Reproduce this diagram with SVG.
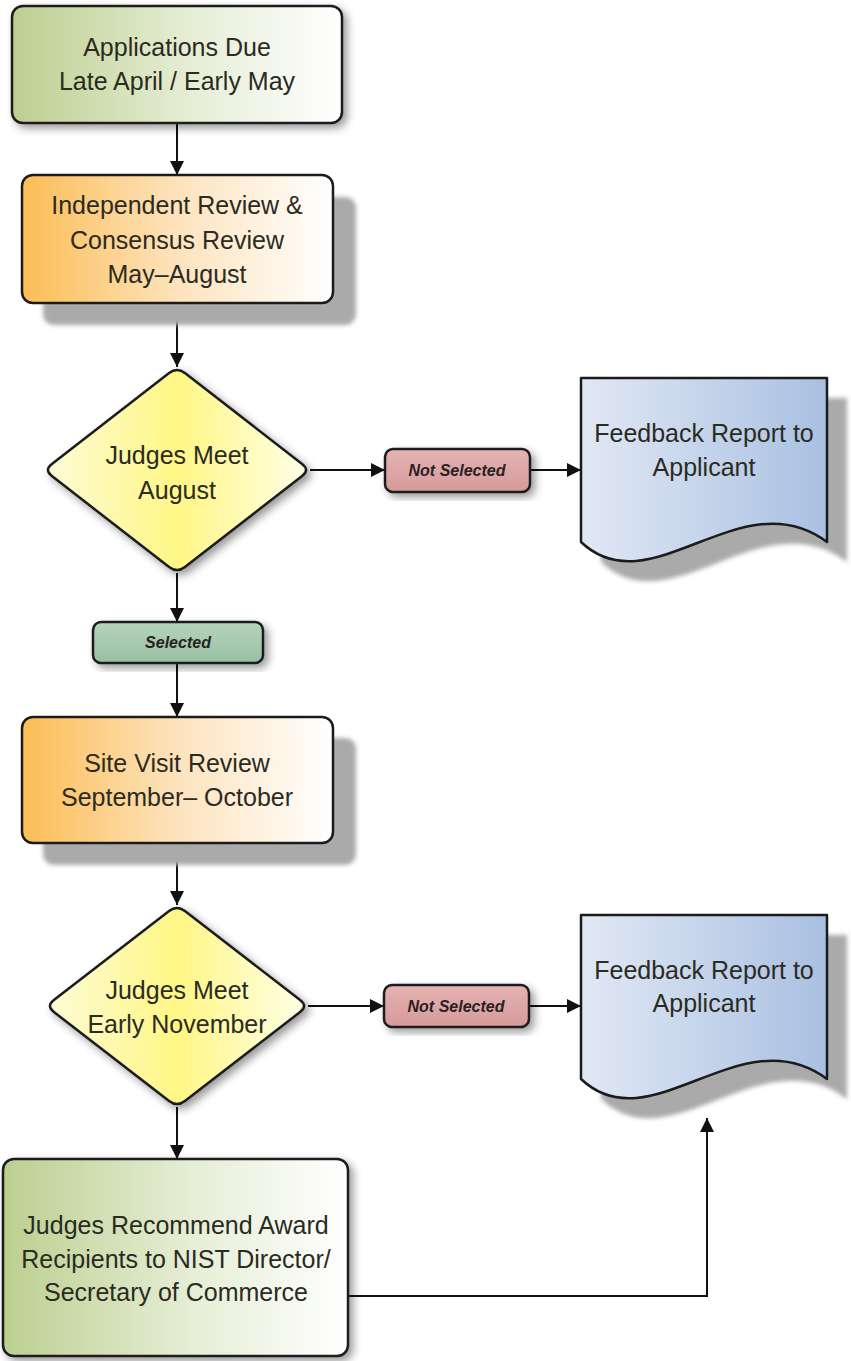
<svg xmlns="http://www.w3.org/2000/svg" width="851" height="1361" viewBox="0 0 851 1361">
<defs>
  <linearGradient id="gGreen" x1="0" y1="0" x2="1" y2="0">
    <stop offset="0" stop-color="#bccf90"/>
    <stop offset="0.55" stop-color="#e6eed6"/>
    <stop offset="1" stop-color="#ffffff"/>
  </linearGradient>
  <linearGradient id="gOrange" x1="0" y1="0" x2="1" y2="0">
    <stop offset="0" stop-color="#fbbd55"/>
    <stop offset="0.5" stop-color="#fde3bd"/>
    <stop offset="1" stop-color="#ffffff"/>
  </linearGradient>
  <linearGradient id="gYellow" x1="0" y1="0" x2="1" y2="0">
    <stop offset="0" stop-color="#fdfcd6"/>
    <stop offset="0.5" stop-color="#fff685"/>
    <stop offset="1" stop-color="#ffffe6"/>
  </linearGradient>
  <linearGradient id="gBlue" x1="0" y1="0" x2="1" y2="0">
    <stop offset="0" stop-color="#e1e8f4"/>
    <stop offset="1" stop-color="#a9c0e2"/>
  </linearGradient>
  <linearGradient id="gPink" x1="0" y1="0" x2="0" y2="1">
    <stop offset="0" stop-color="#e6b3b3"/>
    <stop offset="1" stop-color="#d59a9a"/>
  </linearGradient>
  <linearGradient id="gSel" x1="0" y1="0" x2="0" y2="1">
    <stop offset="0" stop-color="#b4d4bc"/>
    <stop offset="1" stop-color="#98c0a3"/>
  </linearGradient>
  <filter id="soft" x="-10%" y="-10%" width="130%" height="130%">
    <feDropShadow dx="4" dy="4" stdDeviation="4" flood-color="#000" flood-opacity="0.4"/>
  </filter>
  <filter id="blur" x="-10%" y="-10%" width="120%" height="120%">
    <feGaussianBlur stdDeviation="2"/>
  </filter>
  <marker id="arr" markerWidth="14" markerHeight="14" viewBox="0 0 14 14" refX="14" refY="7" orient="auto" markerUnits="userSpaceOnUse">
    <path d="M0,0 L14,7 L0,14 Z" fill="#111"/>
  </marker>
  <style>
    .shape { stroke: #1b1b1b; stroke-width: 2.5; stroke-linejoin: round; }
    .shadow { fill: #aaaaaa; }
    .t { font-family: "Liberation Sans", Arial, sans-serif; font-size: 25px; fill: #2b2b22; text-anchor: middle; }
    .s { font-family: "Liberation Sans", Arial, sans-serif; font-size: 16px; font-weight: bold; font-style: italic; fill: #2a2222; text-anchor: middle; }
    .c { fill: none; stroke: #111; stroke-width: 2; }
  </style>
</defs>

<g id="connectors">
  <line class="c" x1="177" y1="123" x2="177" y2="175" marker-end="url(#arr)"/>
  <line class="c" x1="177" y1="303" x2="177" y2="367" marker-end="url(#arr)"/>
  <line class="c" x1="310" y1="470" x2="385" y2="470" marker-end="url(#arr)"/>
  <line class="c" x1="530" y1="470" x2="581" y2="470" marker-end="url(#arr)"/>
  <line class="c" x1="177" y1="573" x2="177" y2="622" marker-end="url(#arr)"/>
  <line class="c" x1="177" y1="663" x2="177" y2="717" marker-end="url(#arr)"/>
  <line class="c" x1="177" y1="843" x2="177" y2="905" marker-end="url(#arr)"/>
  <line class="c" x1="308" y1="1006" x2="384" y2="1006" marker-end="url(#arr)"/>
  <line class="c" x1="529" y1="1006" x2="581" y2="1006" marker-end="url(#arr)"/>
  <line class="c" x1="177" y1="1107" x2="177" y2="1159" marker-end="url(#arr)"/>
  <polyline class="c" points="348,1296 707,1296 707,1118" marker-end="url(#arr)"/>
</g>

<g id="applications-due">
  <rect class="shape" x="12" y="6" width="330" height="117" rx="11" fill="url(#gGreen)" filter="url(#soft)"/>
  <text class="t" x="177" y="56">Applications Due</text>
  <text class="t" x="177" y="90">Late April / Early May</text>
</g>

<g id="independent-review">
  <rect class="shadow" x="43" y="197" width="313" height="128" rx="11" filter="url(#blur)"/>
  <rect class="shape" x="22" y="175" width="311" height="128" rx="11" fill="url(#gOrange)"/>
  <text class="t" x="177" y="214">Independent Review &amp;</text>
  <text class="t" x="177" y="249">Consensus Review</text>
  <text class="t" x="177" y="283">May–August</text>
</g>

<g id="judges-meet-august">
  <path class="shape" fill="url(#gYellow)" filter="url(#soft)" d="M184.9,373.1 L302.1,463.9 Q310,470 302.1,476.1 L184.9,566.9 Q177,573 169.1,566.9 L51.9,476.1 Q44,470 51.9,463.9 L169.1,373.1 Q177,367 184.9,373.1 Z"/>
  <text class="t" x="177" y="464">Judges Meet</text>
  <text class="t" x="177" y="499">August</text>
</g>

<g id="not-selected-1">
  <rect class="shape" x="385" y="449" width="145" height="43" rx="8" fill="url(#gPink)" filter="url(#soft)"/>
  <text class="s" x="457" y="476">Not Selected</text>
</g>

<g id="feedback-1">
  <path class="shadow" filter="url(#blur)" transform="translate(20,20)" d="M581,378 H827 V542 C741,478 651,608 581,542 Z"/>
  <path class="shape" fill="url(#gBlue)" d="M581,378 H827 V542 C741,478 651,608 581,542 Z"/>
  <text class="t" x="704" y="442">Feedback Report to</text>
  <text class="t" x="704" y="476">Applicant</text>
</g>

<g id="selected">
  <rect class="shape" x="93" y="622" width="170" height="41" rx="8" fill="url(#gSel)" filter="url(#soft)"/>
  <text class="s" x="178" y="648">Selected</text>
</g>

<g id="site-visit">
  <rect class="shadow" x="43" y="738" width="313" height="127" rx="11" filter="url(#blur)"/>
  <rect class="shape" x="22" y="717" width="311" height="126" rx="11" fill="url(#gOrange)"/>
  <text class="t" x="177" y="772">Site Visit Review</text>
  <text class="t" x="177" y="806">September– October</text>
</g>

<g id="judges-meet-november">
  <path class="shape" fill="url(#gYellow)" filter="url(#soft)" d="M184.9,911.1 L300.1,999.9 Q308,1006 300.1,1012.1 L184.9,1100.9 Q177,1107 169.1,1100.9 L53.9,1012.1 Q46,1006 53.9,999.9 L169.1,911.1 Q177,905 184.9,911.1 Z"/>
  <text class="t" x="177" y="999">Judges Meet</text>
  <text class="t" x="177" y="1033">Early November</text>
</g>

<g id="not-selected-2">
  <rect class="shape" x="384" y="985" width="145" height="42" rx="8" fill="url(#gPink)" filter="url(#soft)"/>
  <text class="s" x="456" y="1012">Not Selected</text>
</g>

<g id="feedback-2">
  <path class="shadow" filter="url(#blur)" transform="translate(20,20)" d="M581,915 H827 V1079 C741,1015 651,1145 581,1079 Z"/>
  <path class="shape" fill="url(#gBlue)" d="M581,915 H827 V1079 C741,1015 651,1145 581,1079 Z"/>
  <text class="t" x="704" y="979">Feedback Report to</text>
  <text class="t" x="704" y="1012">Applicant</text>
</g>

<g id="judges-recommend">
  <rect class="shape" x="3" y="1159" width="345" height="197" rx="11" fill="url(#gGreen)" filter="url(#soft)"/>
  <text class="t" x="176" y="1234">Judges Recommend Award</text>
  <text class="t" x="176" y="1268">Recipients to NIST Director/</text>
  <text class="t" x="176" y="1301">Secretary of Commerce</text>
</g>
</svg>
